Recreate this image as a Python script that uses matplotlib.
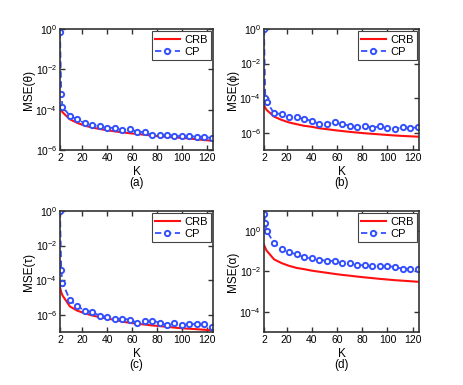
#%% Imports
import numpy as np
import matplotlib
matplotlib.use("Agg")
import matplotlib.pyplot as plt

plt.rcParams['font.family'] = ['Liberation Sans', 'DejaVu Sans']
plt.rcParams['mathtext.fontset'] = 'custom'
plt.rcParams['mathtext.rm'] = 'Liberation Sans'
plt.rcParams['mathtext.it'] = 'Liberation Sans:italic'

#%% Data
K = [2, 3, 4, 10, 16, 22, 28, 34, 40, 46, 52, 58, 64, 70, 76, 82, 88, 94, 100, 106, 112, 118, 124]

crb_theta = [1.1e-4, 9.0e-5, 7.5e-5, 3.3e-5, 2.2e-5, 1.6e-5, 1.3e-5, 1.1e-5, 9.5e-6, 8.4e-6, 7.5e-6, 6.8e-6,
             6.2e-6, 5.7e-6, 5.2e-6, 4.8e-6, 4.5e-6, 4.2e-6, 4.0e-6, 3.7e-6, 3.4e-6, 3.1e-6, 2.9e-6]
cp_theta = [0.74, 5.7e-4, 1.4e-4, 4.9e-5, 3.3e-5, 2.1e-5, 1.7e-5, 1.5e-5, 1.2e-5, 1.3e-5, 1.0e-5, 1.07e-5,
            8.1e-6, 7.6e-6, 5.5e-6, 5.7e-6, 5.5e-6, 5.1e-6, 4.8e-6, 5.0e-6, 4.4e-6, 4.6e-6, 3.8e-6]

crb_phi = [4.0e-5, 2.8e-5, 2.1e-5, 8.5e-6, 5.5e-6, 3.9e-6, 3.1e-6, 2.5e-6, 2.2e-6, 1.8e-6, 1.6e-6, 1.4e-6,
           1.25e-6, 1.12e-6, 1.02e-6, 9.3e-7, 8.6e-7, 8.0e-7, 7.4e-7, 6.9e-7, 6.5e-7, 6.2e-7, 5.9e-7]
cp_phi = [0.96, 1.0e-4, 6.3e-5, 1.35e-5, 1.2e-5, 7.9e-6, 7.9e-6, 6.3e-6, 4.8e-6, 3.2e-6, 3.2e-6, 3.9e-6,
          3.1e-6, 2.6e-6, 2.1e-6, 2.5e-6, 2.0e-6, 2.3e-6, 1.8e-6, 1.6e-6, 2.2e-6, 1.8e-6, 2.1e-6]

crb_tau = [4.0e-5, 2.0e-5, 1.3e-5, 3.0e-6, 1.7e-6, 1.2e-6, 9.0e-7, 7.2e-7, 6.0e-7, 5.0e-7, 4.0e-7, 3.4e-7,
           3.0e-7, 2.7e-7, 2.4e-7, 2.2e-7, 2.0e-7, 1.8e-7, 1.65e-7, 1.55e-7, 1.45e-7, 1.35e-7, 1.3e-7]
cp_tau = [1.0, 3.7e-4, 7.2e-5, 6.9e-6, 3.1e-6, 1.7e-6, 1.45e-6, 8.5e-7, 7.4e-7, 5.5e-7, 5.9e-7, 5.2e-7,
          3.4e-7, 4.2e-7, 4.6e-7, 3.5e-7, 2.5e-7, 3.2e-7, 2.4e-7, 2.9e-7, 2.8e-7, 2.9e-7, 2.0e-7]

crb_alpha = [0.21, 0.15, 0.11, 0.04, 0.026, 0.019, 0.015, 0.013, 0.011, 0.0097, 0.0086, 0.0076,
             0.0068, 0.0062, 0.0056, 0.0051, 0.0047, 0.0043, 0.0040, 0.0037, 0.0035, 0.0033, 0.0031]
cp_alpha = [7.4, 2.5, 1.07, 0.25, 0.13, 0.089, 0.071, 0.05, 0.045, 0.038, 0.034, 0.033,
            0.025, 0.025, 0.021, 0.020, 0.018, 0.019, 0.018, 0.017, 0.0135, 0.013, 0.0135]

panels = [
    ("MSE(θ)", "(a)", crb_theta, cp_theta, (1e-6, 1e0), [1e-6, 1e-4, 1e-2, 1e0]),
    ("MSE(ϕ)", "(b)", crb_phi, cp_phi, (1e-7, 1e0), [1e-6, 1e-4, 1e-2, 1e0]),
    ("MSE(τ)", "(c)", crb_tau, cp_tau, (1e-7, 1e0), [1e-6, 1e-4, 1e-2, 1e0]),
    ("MSE(α)", "(d)", crb_alpha, cp_alpha, (1e-5, 1e1), [1e-4, 1e-2, 1e0]),
]

#%% Plot
W, H = 463, 385
fig = plt.figure(figsize=(W / 100, H / 100), dpi=100)
boxes = [(60, 29, 213, 150), (264, 29, 419, 150), (60, 211, 213, 332), (264, 211, 419, 332)]

blue = '#3350ff'
for (ylab, tag, crb, cp, ylim, yt), (x0, y0, x1, y1) in zip(panels, boxes):
    ax = fig.add_axes([x0 / W, 1 - y1 / H, (x1 - x0) / W, (y1 - y0) / H])
    ax.plot(K, crb, color='#ff1010', lw=1.5, label='CRB')
    ax.plot(K, cp, color=blue, lw=1.3, ls=(0, (3.5, 2)), marker='o', ms=3.8,
            mfc='white', mec=blue, mew=1.4, label='CP')
    ax.set_yscale('log')
    ax.set_ylim(*ylim)
    ax.set_yticks(yt)
    ax.minorticks_off()
    ax.set_xlim(2, 125)
    ax.set_xticks([2, 20, 40, 60, 80, 100, 120])
    ax.tick_params(direction='in', top=True, right=True, length=3.5, width=1,
                   labelsize=7.5, pad=2, color='#333333')
    for s in ax.spines.values():
        s.set_linewidth(1.2)
        s.set_color('#333333')
    ax.set_ylabel(ylab, fontsize=8.5, labelpad=0)
    ax.set_xlabel('K', fontsize=8.5, labelpad=2)
    ax.text(0.5, -0.225, tag, transform=ax.transAxes, ha='center', va='top', fontsize=8.5)
    leg = ax.legend(loc='upper right', fontsize=8, handlelength=2.2, borderpad=0.3,
                    labelspacing=0.2, handletextpad=0.4, borderaxespad=0.2,
                    fancybox=False, framealpha=1)
    leg.get_frame().set_edgecolor('#444444')
    leg.get_frame().set_linewidth(0.8)

plt.savefig("out.png", dpi=100)
